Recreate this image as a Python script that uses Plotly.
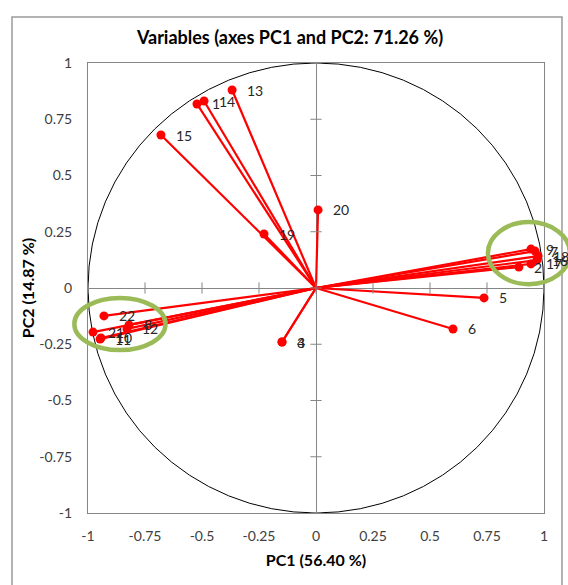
import plotly.graph_objects as go

# Variable loadings on the first two principal components
variables = ["1", "2", "3", "4", "5", "6", "7", "8", "9", "10", "11",
             "12", "13", "14", "15", "16", "17", "18", "19", "20", "21", "22"]
pc1 = [-0.522, 0.890, -0.149, -0.149, 0.737, 0.601, 0.961, -0.820, 0.943, -0.943, -0.947,
       -0.829, -0.368, -0.491, -0.680, 0.969, 0.943, 0.974, -0.228, 0.009, -0.978, -0.930]
pc2 = [0.818, 0.093, -0.240, -0.240, -0.044, -0.182, 0.164, -0.164, 0.173, -0.222, -0.227,
       -0.182, 0.880, 0.831, 0.680, 0.124, 0.107, 0.142, 0.240, 0.347, -0.196, -0.124]

tick_vals = [-1, -0.75, -0.5, -0.25, 0, 0.25, 0.5, 0.75, 1]
tick_text = ["-1", "-0.75", "-0.5", "-0.25", "0", "0.25", "0.5", "0.75", "1"]

# Highlighted groups (centre x, centre y, half-width, half-height) in PC units
groups = [(-0.86, -0.16, 0.20, 0.116), (0.934, 0.155, 0.18, 0.138)]

W, H = 568, 585
ML, MR, MT, MB = 88, 24, 63, 72
RED = "#FF0000"
GREY = "#868686"
FONT = "Lato, 'Open Sans', sans-serif"

fig = go.Figure()

# vectors from the origin to each variable
vx, vy = [], []
for x, y in zip(pc1, pc2):
    vx += [0, x, None]
    vy += [0, y, None]
fig.add_trace(go.Scatter(x=vx, y=vy, mode="lines",
                         line=dict(color=RED, width=2.2), hoverinfo="skip"))

# cross-style tick marks on the zero axes
fig.add_trace(go.Scatter(x=tick_vals, y=[0] * len(tick_vals), mode="markers",
                         marker=dict(symbol="line-ns", size=8,
                                     line=dict(color=GREY, width=1)),
                         hoverinfo="skip"))
fig.add_trace(go.Scatter(x=[0] * len(tick_vals), y=tick_vals, mode="markers",
                         marker=dict(symbol="line-ew", size=8,
                                     line=dict(color=GREY, width=1)),
                         hoverinfo="skip"))

fig.add_trace(go.Scatter(x=pc1, y=pc2, mode="markers",
                         marker=dict(color=RED, size=9), text=variables,
                         hovertemplate="%{text}: (%{x}, %{y})<extra></extra>"))

for name, x, y in zip(variables, pc1, pc2):
    fig.add_annotation(x=x, y=y, text=name, showarrow=False, xanchor="left",
                       xshift=13, font=dict(family=FONT, size=14, color="#262626"))

# correlation circle
fig.add_shape(type="circle", xref="x", yref="y", x0=-1, y0=-1, x1=1, y1=1,
              line=dict(color="#000000", width=1), layer="below")


def to_paper_x(v):
    return (v + 1) / 2


def to_paper_y(v):
    return (v + 1) / 2


for cx, cy, rx, ry in groups:
    fig.add_shape(type="circle", xref="paper", yref="paper",
                  x0=to_paper_x(cx - rx), x1=to_paper_x(cx + rx),
                  y0=to_paper_y(cy - ry), y1=to_paper_y(cy + ry),
                  line=dict(color="#9BBB59", width=4.5), layer="above")

# outer chart frame
pw, ph = W - ML - MR, H - MT - MB
fig.add_shape(type="rect", xref="paper", yref="paper",
              x0=(12 - ML) / pw, x1=(562 - ML) / pw,
              y0=(H - MB - 595) / ph, y1=(H - MB - 17) / ph,
              line=dict(color="#9A9A9A", width=1.5), layer="below")

axis_common = dict(range=[-1, 1], tickvals=tick_vals, ticktext=tick_text,
                   showgrid=False, zeroline=True, zerolinecolor=GREY,
                   zerolinewidth=1, showline=True, linecolor=GREY, linewidth=1,
                   mirror=True, ticks="outside", tickcolor="rgba(0,0,0,0)",
                   tickfont=dict(family=FONT, size=14, color="#404040"))

fig.update_layout(
    width=W, height=H,
    margin=dict(l=ML, r=MR, t=MT, b=MB),
    paper_bgcolor="white", plot_bgcolor="white",
    showlegend=False,
    title=dict(text="<b>Variables (axes PC1 and PC2: 71.26 %)</b>",
               x=290 / W, xanchor="center", y=1 - 38 / H, yanchor="middle",
               font=dict(family=FONT, size=18, color="#000000")),
    xaxis=dict(**axis_common, ticklen=10,
               title=dict(text="<b>PC1 (56.40 %)</b>", standoff=12,
                          font=dict(family=FONT, size=16, color="#000000"))),
    yaxis=dict(**axis_common, ticklen=12,
               title=dict(text="<b>PC2 (14.87 %)</b>", standoff=0,
                          font=dict(family=FONT, size=16, color="#000000"))),
)

fig.write_html("out.html")
